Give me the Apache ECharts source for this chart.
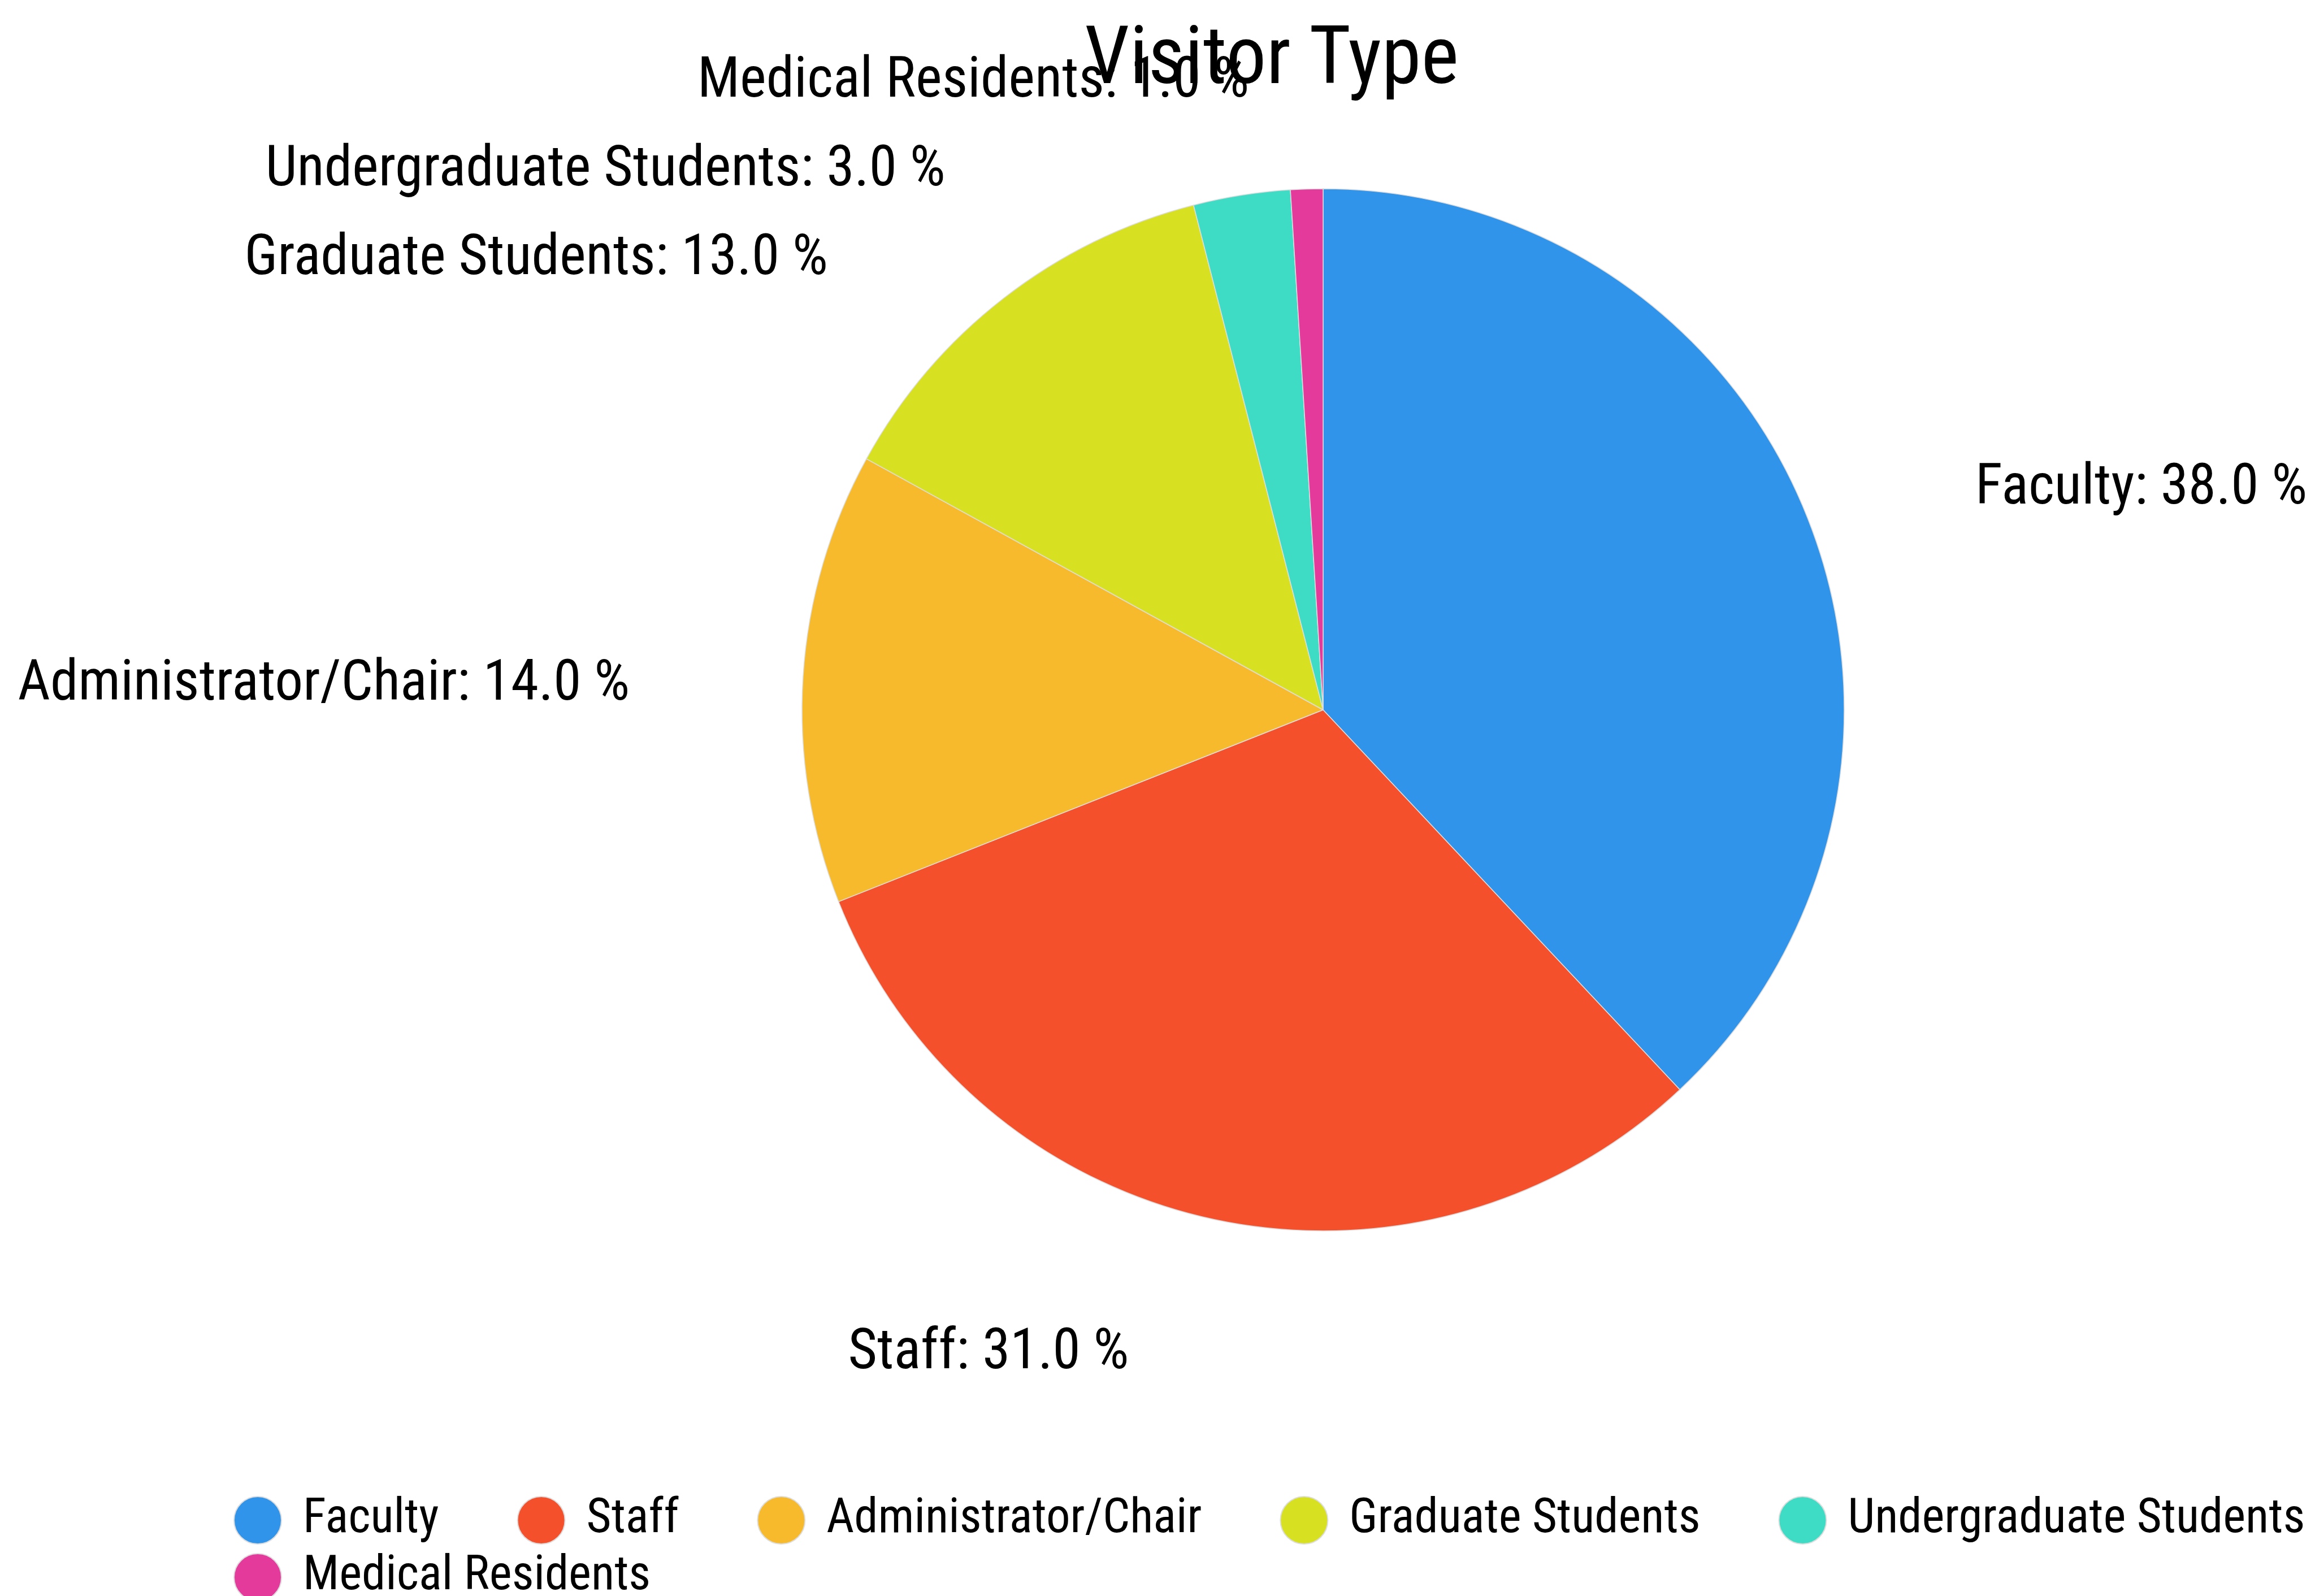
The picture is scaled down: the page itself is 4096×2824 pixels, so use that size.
<!DOCTYPE html>
<html>
<head>
<meta charset="utf-8">
<script src="https://cdn.jsdelivr.net/npm/echarts@6/dist/echarts.min.js"></script>
<style>
html,body{margin:0;padding:0;background:#fff;}
#chart{width:4096px;height:2824px;}
</style>
</head>
<body>
<div id="chart"></div>
<script>
const categories = ['Faculty', 'Staff', 'Administrator/Chair', 'Graduate Students', 'Undergraduate Students', 'Medical Residents'];
const values = [38, 31, 14, 13, 3, 1];
const colors = ['#3094EA', '#F5502C', '#F6BA2C', '#D7E021', '#3EDCC5', '#E33A9B'];
const titleText = 'Visitor Type';

const FONT = "'Liberation Sans Narrow', 'Roboto Condensed', 'Arial Narrow', Roboto, sans-serif";

const chart = echarts.init(document.getElementById('chart'), null, {renderer: 'canvas'});
const pieData = categories.map((c, i) => ({name: c, value: values[i], itemStyle: {color: colors[i]}}));

chart.setOption({
  animation: false,
  backgroundColor: '#fff',
  color: colors,
  title: {
    text: titleText,
    left: 2250,
    top: 40,
    textAlign: 'center',
    padding: 0,
    textStyle: {fontFamily: FONT, fontSize: 142, lineHeight: 142, fontWeight: 'normal', color: '#000'}
  },
  legend: {
    data: categories,
    left: 413,
    top: 2647,
    width: 4000,
    padding: 0,
    icon: 'circle',
    itemWidth: 84,
    itemHeight: 84,
    itemGap: 15,
    textStyle: {fontFamily: FONT, fontSize: 85, lineHeight: 84, color: '#000', padding: [0, 123, 0, 33]}
  },
  series: [{
    type: 'pie',
    radius: 922,
    center: [2341, 1256],
    startAngle: 90,
    clockwise: true,
    avoidLabelOverlap: true,
    data: pieData,
    itemStyle: {borderColor: '#dddddd', borderWidth: 1.5},
    label: {
      show: true,
      position: 'outside',
      fontFamily: FONT,
      fontSize: 99.5,
      lineHeight: 155,
      overflow: 'none',
      color: '#000',
      distanceToLabelLine: 5,
      formatter: p => p.name + ': ' + p.percent.toFixed(1) + ' %'
    },
    labelLayout: {dy: 29},
    labelLine: {show: false, length: 217, length2: 90},
    emphasis: {disabled: true}
  }]
});
</script>
</body>
</html>
